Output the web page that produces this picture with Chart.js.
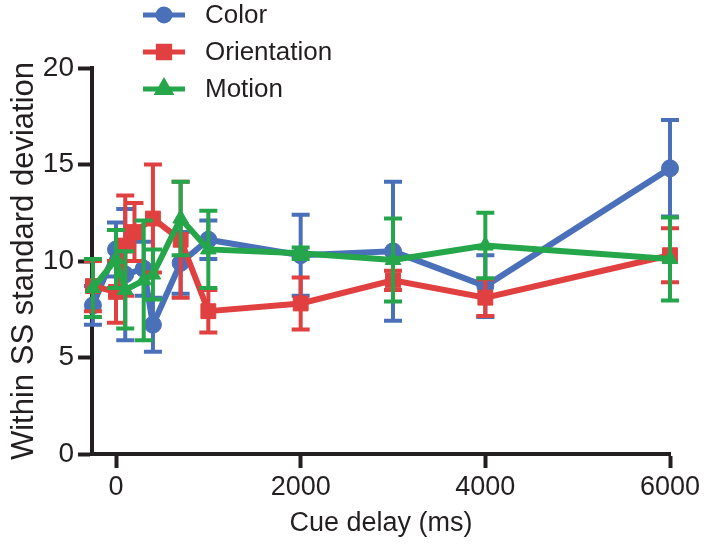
<!DOCTYPE html>
<html>
<head>
<meta charset="utf-8">
<script src="https://cdn.jsdelivr.net/npm/chart.js@4/dist/chart.umd.min.js"></script>
<style>
  html, body { margin: 0; padding: 0; background: #fff; }
  #wrap { width: 708px; height: 546px; position: relative; }
</style>
</head>
<body>
<div id="wrap"><canvas id="chart"></canvas></div>
<script>
// ── Data ──────────────────────────────────────────────────────────────────
const delays      = [-250, 0, 100, 200, 300, 400, 700, 1000, 2000, 3000, 4000, 6000];
const colorMean   = [7.7, 10.6, 9.3, null, 9.6, 6.7, 9.9, 11.1, 10.3, 10.5, 8.7, 14.8];
const colorErr    = [1.0, 1.4, 3.4, null, 1.4, 1.4, 1.6, 1.0, 2.1, 3.6, 1.6, 2.5];
const orientMean  = [8.7, 8.4, 10.8, 11.5, null, 12.2, 11.1, 7.4, 7.8, 9.0, 8.1, 10.3];
const orientErr   = [1.3, 1.6, 2.6, 1.5, null, 2.8, 3.0, 1.1, 1.35, 0.5, 0.95, 1.4];
const motionMean  = [8.6, 10.1, 8.5, null, 9.0, 9.3, 12.2, 10.6, 10.4, 10.05, 10.8, 10.1];
const motionErr   = [1.5, 1.5, 2.0, null, 3.1, 1.3, 1.9, 2.0, 0.3, 2.15, 1.7, 2.15];
const xTicks      = [0, 2000, 4000, 6000];
const yTicks      = [0, 5, 10, 15, 20];

const FONT = "'Liberation Sans', Arial, sans-serif";
const INK = '#231f20';

function series(means, errs) {
  const pts = [], e = [];
  delays.forEach((d, i) => {
    if (means[i] == null) return;
    pts.push({ x: d, y: means[i] });
    e.push(errs[i]);
  });
  return { pts, e };
}

const sColor  = series(colorMean, colorErr);
const sOrient = series(orientMean, orientErr);
const sMotion = series(motionMean, motionErr);

// ── Error bars (drawn under each dataset's own line) ──────────────────────
const errorBars = {
  id: 'errorBars',
  beforeDatasetDraw(chart, args) {
    const ds = chart.data.datasets[args.index];
    if (!ds.errors) return;
    const ctx = chart.ctx, y = chart.scales.y;
    ctx.save();
    ctx.strokeStyle = ds.borderColor;
    ctx.lineWidth = 4;
    ctx.lineCap = 'butt';
    args.meta.data.forEach((pt, i) => {
      const v = ds.data[i].y, e = ds.errors[i];
      if (e == null) return;
      const top = y.getPixelForValue(v + e), bot = y.getPixelForValue(v - e);
      ctx.beginPath();
      ctx.moveTo(pt.x, top); ctx.lineTo(pt.x, bot);
      ctx.moveTo(pt.x - 9, top); ctx.lineTo(pt.x + 9, top);
      ctx.moveTo(pt.x - 9, bot); ctx.lineTo(pt.x + 9, bot);
      ctx.stroke();
    });
    ctx.restore();
  }
};

// ── Legend (top left, over the plot) ──────────────────────────────────────
const topLegend = {
  id: 'topLegend',
  afterDraw(chart) {
    const ctx = chart.ctx;
    ctx.save();
    chart.data.datasets.forEach((ds, i) => {
      const cy = 15 + i * 37;
      ctx.strokeStyle = ds.borderColor;
      ctx.fillStyle = ds.borderColor;
      ctx.lineWidth = 5;
      ctx.beginPath();
      ctx.moveTo(143, cy); ctx.lineTo(185, cy);
      ctx.stroke();
      Chart.helpers.drawPoint(ctx, { pointStyle: ds.pointStyle, radius: ds.legendRadius, borderWidth: 1, rotation: 0 }, 164, cy);
      ctx.fillStyle = INK;
      ctx.font = '26px ' + FONT;
      ctx.textBaseline = 'middle';
      ctx.textAlign = 'left';
      ctx.fillText(ds.label, 205, cy + 1);
    });
    ctx.restore();
  }
};

function dataset(label, s, color, style, radius, legendRadius, order) {
  return {
    label,
    data: s.pts,
    errors: s.e,
    borderColor: color,
    backgroundColor: color,
    pointBackgroundColor: color,
    pointBorderColor: color,
    pointStyle: style,
    pointRadius: radius,
    pointBorderWidth: 1,
    legendRadius,
    borderWidth: 6,
    tension: 0,
    clip: false,
    order
  };
}

new Chart(document.getElementById('chart'), {
  type: 'line',
  data: {
    datasets: [
      dataset('Color', sColor, '#4a70b9', 'circle', 8.5, 6, 3),
      dataset('Orientation', sOrient, '#e0403f', 'rect', 10.5, 8, 2),
      dataset('Motion', sMotion, '#25a64a', 'triangle', 9, 7, 1)
    ]
  },
  options: {
    responsive: true,
    maintainAspectRatio: false,
    animation: false,
    layout: { padding: { left: 0, top: 68, right: 38, bottom: 0 } },
    plugins: { legend: { display: false }, tooltip: { enabled: false } },
    scales: {
      x: {
        type: 'linear',
        min: -260, max: 6000,
        afterBuildTicks: s => { s.ticks = xTicks.map(v => ({ value: v })); },
        afterFit: s => { s.height = 92; },
        ticks: { color: INK, font: { family: FONT, size: 27 }, padding: 3, maxRotation: 0, callback: v => String(v) },
        grid: { display: true, drawOnChartArea: false, drawTicks: true, tickLength: 14, tickWidth: 4, tickColor: INK },
        border: { display: true, width: 4, color: INK },
        title: { display: true, text: 'Cue delay (ms)', color: INK, font: { family: FONT, size: 27 }, padding: { top: 2, bottom: 6 } }
      },
      y: {
        min: 0, max: 20,
        afterBuildTicks: s => { s.ticks = yTicks.map(v => ({ value: v })); },
        afterFit: s => { s.width = 92; },
        ticks: { color: INK, font: { family: FONT, size: 28 }, padding: 4, callback: v => String(v) },
        grid: { display: true, drawOnChartArea: false, drawTicks: true, tickLength: 14, tickWidth: 4, tickColor: INK },
        border: { display: true, width: 4, color: INK },
        title: { display: true, text: 'Within SS standard deviation', color: INK, font: { family: FONT, size: 31 }, padding: { top: 6, bottom: 4 } }
      }
    }
  },
  plugins: [errorBars, topLegend]
});
</script>
</body>
</html>
